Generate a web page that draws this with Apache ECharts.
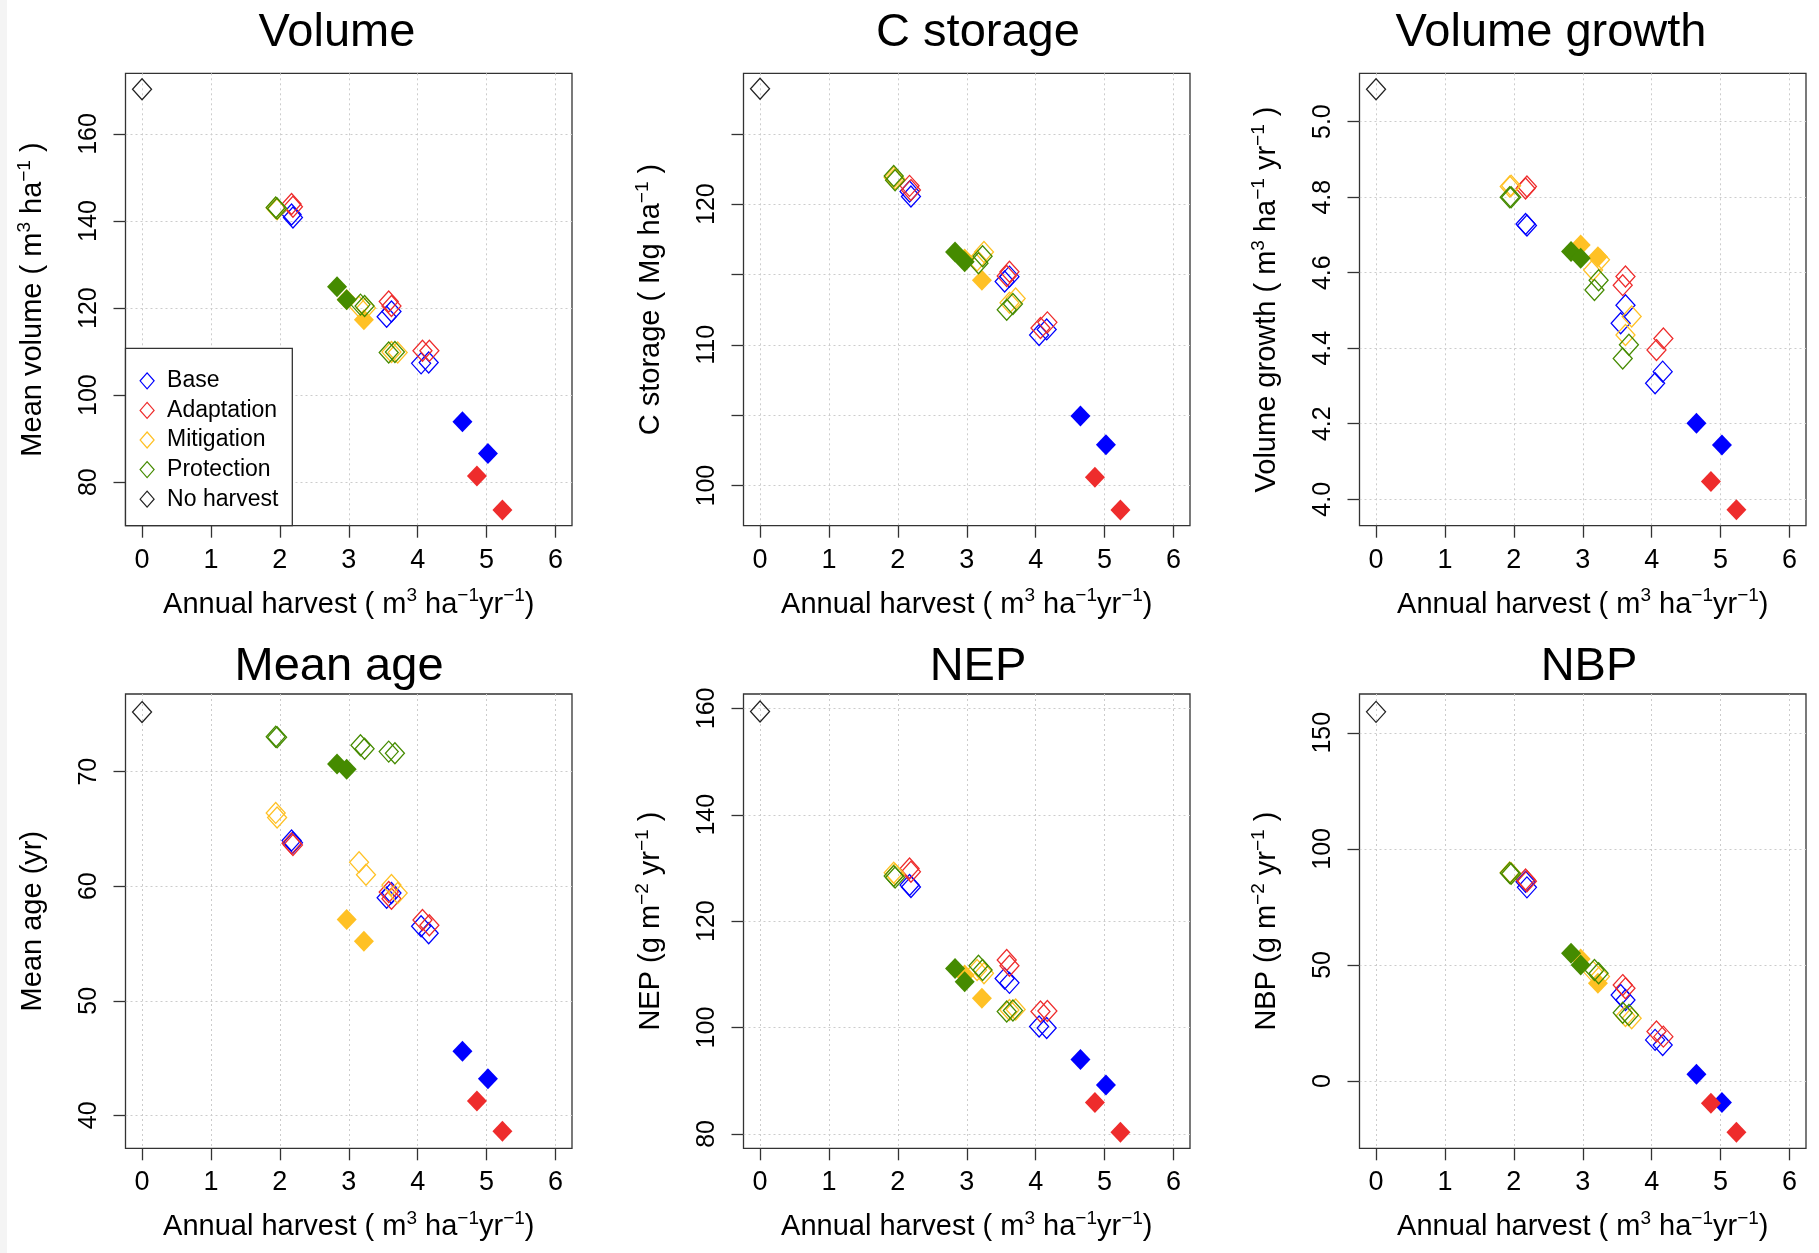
<!DOCTYPE html>
<html>
<head>
<meta charset="utf-8">
<script src="https://cdn.jsdelivr.net/npm/echarts@6/dist/echarts.min.js"></script>
<style>
  html, body { margin: 0; padding: 0; background: #ffffff; }
  #chart { width: 1819px; height: 1253px; }
</style>
</head>
<body>
<div id="chart"></div>
<script>
// Management scenarios and their colours
const scenarios = ['Base', 'Adaptation', 'Mitigation', 'Protection'];
const scenarioColors = ['#0000FF', '#EE2C2C', '#FFC125', '#458B00'];
const noHarvestColor = '#222222';

// Each scenario: six regime variants (open diamonds) followed by two (filled diamonds)
const OPEN_COUNT = 6;

// Annual harvest (m3 ha-1 yr-1)
const harvestBase       = [2.17, 2.19, 3.55, 3.62, 4.05, 4.16, 4.65, 5.02];
const harvestAdaptation = [2.17, 2.19, 3.58, 3.62, 4.07, 4.17, 4.86, 5.23];
const harvestMitigation = [1.94, 1.96, 3.15, 3.25, 3.62, 3.71, 2.97, 3.22];
const harvestProtection = [1.94, 1.96, 3.17, 3.23, 3.58, 3.67, 2.83, 2.97];
const harvestNoHarvest  = [0];

// Mean volume (m3 ha-1)
const volumeBase       = [141.5, 140.8, 118.0, 119.2, 107.3, 107.5, 93.9, 86.6];
const volumeAdaptation = [143.9, 143.3, 121.5, 120.5, 110.2, 110.2, 81.4, 73.6];
const volumeMitigation = [143.0, 142.7, 120.3, 120.0, 109.9, 109.8, 122.0, 117.3];
const volumeProtection = [143.1, 142.9, 120.8, 120.5, 109.8, 109.9, 124.9, 121.9];
const volumeNoHarvest  = [170.3];

// C storage (Mg ha-1)
const carbonBase       = [120.9, 120.55, 114.5, 114.85, 110.7, 111.1, 104.94, 102.9];
const carbonAdaptation = [121.3, 121.0, 114.9, 115.2, 111.2, 111.6, 100.6, 98.26];
const carbonMitigation = [121.9, 121.8, 116.0, 116.6, 113.0, 113.3, 116.1, 114.6];
const carbonProtection = [122.0, 121.7, 115.8, 116.3, 112.5, 112.9, 116.6, 115.9];
const carbonNoHarvest  = [128.2];

// Volume growth (m3 ha-1 yr-1)
const growthBase       = [4.729, 4.725, 4.466, 4.514, 4.307, 4.338, 4.201, 4.144];
const growthAdaptation = [4.823, 4.828, 4.567, 4.590, 4.395, 4.426, 4.047, 3.972];
const growthMitigation = [4.828, 4.830, 4.607, 4.634, 4.435, 4.484, 4.673, 4.642];
const growthProtection = [4.800, 4.800, 4.554, 4.580, 4.373, 4.409, 4.656, 4.638];
const growthNoHarvest  = [5.086];

// Mean age (yr)
const ageBase       = [64.0, 63.8, 59.0, 59.4, 56.5, 55.9, 45.6, 43.2];
const ageAdaptation = [63.74, 63.6, 59.5, 58.9, 57.05, 56.6, 41.25, 38.6];
const ageMitigation = [66.4, 66.0, 62.1, 61.0, 60.1, 59.4, 57.1, 55.2];
const ageProtection = [73.05, 73.0, 72.3, 72.0, 71.75, 71.6, 70.67, 70.2];
const ageNoHarvest  = [75.2];

// NEP (g m-2 yr-1)
const nepBase       = [126.8, 126.4, 109.2, 108.4, 100.2, 99.9, 94.0, 89.2];
const nepAdaptation = [129.9, 129.3, 112.7, 111.6, 103.0, 103.1, 85.9, 80.3];
const nepMitigation = [129.1, 128.8, 110.8, 110.2, 103.3, 103.4, 109.9, 105.5];
const nepProtection = [128.5, 128.2, 111.6, 110.8, 103.0, 103.2, 111.1, 108.6];
const nepNoHarvest  = [159.4];

// NBP (g m-2 yr-1)
const nbpBase       = [85.8, 83.4, 37.0, 34.9, 17.7, 15.5, 2.9, -9.3];
const nbpAdaptation = [86.8, 86.0, 41.3, 39.9, 21.3, 19.1, -9.6, -22.1];
const nbpMitigation = [89.8, 89.5, 47.0, 45.0, 28.0, 27.0, 52.5, 42.1];
const nbpProtection = [89.6, 89.3, 47.8, 46.4, 29.4, 28.4, 55.0, 50.0];
const nbpNoHarvest  = [159.0];

// Axis ticks and labels
const xTicks = [0, 1, 2, 3, 4, 5, 6];
const volumeTicks = [80, 100, 120, 140, 160];
const carbonTicks = [100, 105, 110, 115, 120, 125];
const carbonLabels = [100, 110, 120];
const growthTicks = [4.0, 4.2, 4.4, 4.6, 4.8, 5.0];
const ageTicks = [40, 50, 60, 70];
const nepTicks = [80, 100, 120, 140, 160];
const nbpTicks = [0, 50, 100, 150];

const harvestByScenario = [harvestBase, harvestAdaptation, harvestMitigation, harvestProtection];

const FONT = '"Liberation Sans", Arial, Helvetica, sans-serif';
const X_RANGE = [-0.24, 6.24];
const colLeft = [125.5, 743.5, 1359.5];
const colWidth = 446.5;
const rowTop = [73.3, 694];
const rowHeight = [452.4, 454.3];
const titleTop = [10, 644];

const panels = [
  { title: 'Volume', titleX: 337, row: 0, col: 0,
    yRange: [70.0, 173.95], ticks: volumeTicks, labels: volumeTicks, digits: 0,
    yName: 'Mean volume ( m{s|3} ha{s|\u22121} )',
    values: [volumeBase, volumeAdaptation, volumeMitigation, volumeProtection], none: volumeNoHarvest },
  { title: 'C storage', titleX: 978, row: 0, col: 1,
    yRange: [97.15, 129.3], ticks: carbonTicks, labels: carbonLabels, digits: 0,
    yName: 'C storage ( Mg ha{s|\u22121} )',
    values: [carbonBase, carbonAdaptation, carbonMitigation, carbonProtection], none: carbonNoHarvest },
  { title: 'Volume growth', titleX: 1551, row: 0, col: 2,
    yRange: [3.930, 5.128], ticks: growthTicks, labels: growthTicks, digits: 1,
    yName: 'Volume growth ( m{s|3} ha{s|\u22121} yr{s|\u22121} )',
    values: [growthBase, growthAdaptation, growthMitigation, growthProtection], none: growthNoHarvest },
  { title: 'Mean age', titleX: 339, row: 1, col: 0,
    yRange: [37.12, 76.78], ticks: ageTicks, labels: ageTicks, digits: 0,
    yName: 'Mean age (yr)',
    values: [ageBase, ageAdaptation, ageMitigation, ageProtection], none: ageNoHarvest },
  { title: 'NEP', titleX: 978, row: 1, col: 1,
    yRange: [77.3, 162.7], ticks: nepTicks, labels: nepTicks, digits: 0,
    yName: 'NEP (g m{s|\u22122} yr{s|\u22121} )',
    values: [nepBase, nepAdaptation, nepMitigation, nepProtection], none: nepNoHarvest },
  { title: 'NBP', titleX: 1589, row: 1, col: 2,
    yRange: [-29.0, 166.7], ticks: nbpTicks, labels: nbpTicks, digits: 0,
    yName: 'NBP (g m{s|\u22122} yr{s|\u22121} )',
    values: [nbpBase, nbpAdaptation, nbpMitigation, nbpProtection], none: nbpNoHarvest }
];

const nameStyle = {
  fontSize: 29, fontFamily: FONT, color: '#000', lineHeight: 36,
  rich: { s: { fontSize: 19, fontFamily: FONT, color: '#000', lineHeight: 18, verticalAlign: 'top' } }
};
const tickStyle = { color: '#333', width: 1.3 };
const gridLineStyle = { color: '#cccccc', width: 1, type: [2, 3] };

const grids = [], xAxes = [], yAxes = [], titles = [], series = [];

panels.forEach((p, i) => {
  grids.push({
    left: colLeft[p.col], top: rowTop[p.row], width: colWidth, height: rowHeight[p.row],
    show: true, borderColor: '#333', borderWidth: 1.3, backgroundColor: 'transparent'
  });
  xAxes.push({
    gridIndex: i, type: 'value', min: X_RANGE[0], max: X_RANGE[1],
    axisLine: { show: false, onZero: false },
    axisTick: { show: true, length: 12, customValues: xTicks, lineStyle: tickStyle },
    axisLabel: { customValues: xTicks, margin: 21, fontSize: 27, fontFamily: FONT, color: '#000' },
    splitLine: { show: true, lineStyle: gridLineStyle },
    name: 'Annual harvest ( m{s|3} ha{s|\u22121}yr{s|\u22121})',
    nameLocation: 'middle', nameGap: 61, nameTextStyle: nameStyle
  });
  yAxes.push({
    gridIndex: i, type: 'value', min: p.yRange[0], max: p.yRange[1],
    axisLine: { show: false, onZero: false },
    axisTick: { show: true, length: 12, customValues: p.ticks, lineStyle: tickStyle },
    axisLabel: {
      customValues: p.labels, rotate: 90, margin: 24, fontSize: 25, fontFamily: FONT, color: '#000',
      formatter: v => Number(v).toFixed(p.digits)
    },
    splitLine: { show: true, lineStyle: gridLineStyle },
    name: p.yName, nameLocation: 'middle', nameRotate: 90, nameGap: 74.5, nameTextStyle: nameStyle
  });
  titles.push({
    text: p.title, left: p.titleX, top: titleTop[p.row], textAlign: 'center', padding: 0,
    textStyle: { fontSize: 47, fontWeight: 'normal', fontFamily: FONT, color: '#000' }
  });

  p.values.forEach((vals, s) => {
    const xs = harvestByScenario[s];
    const open = [], filled = [];
    xs.forEach((x, k) => (k < OPEN_COUNT ? open : filled).push([x, vals[k]]));
    const common = { type: 'scatter', xAxisIndex: i, yAxisIndex: i, symbol: 'diamond', silent: true, animation: false };
    series.push(Object.assign({}, common, {
      name: scenarios[s], symbolSize: [19, 21], data: open,
      itemStyle: { color: 'rgba(0,0,0,0)', borderColor: scenarioColors[s], borderWidth: 1.3, opacity: 1 }
    }));
    series.push(Object.assign({}, common, {
      name: scenarios[s] + ' regime', symbolSize: [20, 21], data: filled,
      itemStyle: { color: scenarioColors[s], borderWidth: 0, opacity: 1 }
    }));
  });
  series.push({
    type: 'scatter', xAxisIndex: i, yAxisIndex: i, symbol: 'diamond', silent: true, animation: false,
    name: 'No harvest', symbolSize: [19, 21],
    data: harvestNoHarvest.map((x, k) => [x, p.none[k]]),
    itemStyle: { color: 'rgba(0,0,0,0)', borderColor: noHarvestColor, borderWidth: 1.3, opacity: 1 }
  });
});

const legendNames = scenarios.concat(['No harvest']);
const legendColors = scenarioColors.concat([noHarvestColor]);

const option = {
  backgroundColor: '#ffffff',
  animation: false,
  title: titles,
  grid: grids,
  xAxis: xAxes,
  yAxis: yAxes,
  legend: {
    show: true, orient: 'vertical', left: 125.5, top: 348.3,
    backgroundColor: '#ffffff', borderColor: '#333', borderWidth: 1.3, borderRadius: 0,
    padding: [21, 14, 15, 14], itemGap: 6.6, itemWidth: 14, itemHeight: 16,
    selectedMode: false,
    textStyle: { fontSize: 23, fontFamily: FONT, color: '#000', padding: [0, 0, 0, 8] },
    data: legendNames.map((n, k) => ({
      name: n, icon: 'diamond',
      itemStyle: { color: 'rgba(0,0,0,0)', borderColor: legendColors[k], borderWidth: 1.2, opacity: 1 }
    }))
  },
  graphic: [{
    type: 'rect', left: 0, top: 0, z: -10, silent: true,
    shape: { width: 7, height: 1253 }, style: { fill: '#f4f4f4' }
  }],
  series: series
};

const chart = echarts.init(document.getElementById('chart'), null, { renderer: 'canvas' });
chart.setOption(option);
</script>
</body>
</html>
